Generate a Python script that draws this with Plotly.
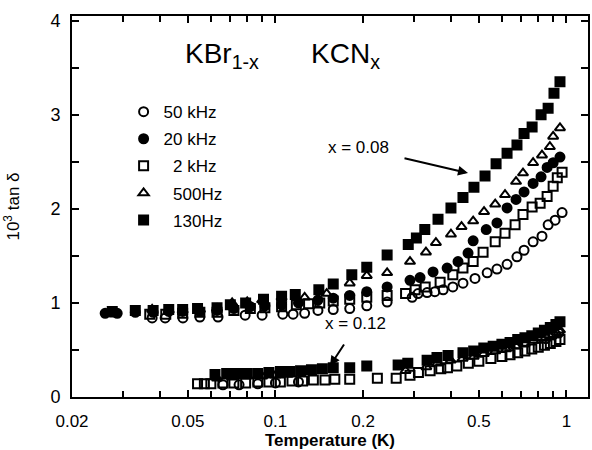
import plotly.graph_objects as go
import math

# ---------------- data: x = 0.08 (upper group) ----------------
t50k_a = [0.0377, 0.0418, 0.0481, 0.055, 0.0635, 0.0787, 0.090, 0.106, 0.115, 0.126, 0.140, 0.158, 0.180,
          0.206, 0.242, 0.295, 0.309, 0.332, 0.353, 0.377, 0.407, 0.441, 0.485, 0.534, 0.577, 0.625, 0.676,
          0.715, 0.768, 0.824, 0.865, 0.914, 0.966]
v50k_a = [0.84, 0.84, 0.84, 0.85, 0.85, 0.87, 0.87, 0.88, 0.88, 0.89, 0.92, 0.93, 0.94,
          0.97, 1.01, 1.06, 1.10, 1.11, 1.12, 1.14, 1.17, 1.21, 1.26, 1.32, 1.36, 1.41, 1.49,
          1.56, 1.65, 1.71, 1.83, 1.88, 1.96]

t20k_a = [0.026, 0.0286, 0.033, 0.038, 0.043, 0.048, 0.055, 0.063, 0.072, 0.082, 0.092, 0.105, 0.120,
          0.140, 0.158, 0.180, 0.206, 0.242, 0.290, 0.314, 0.348, 0.389, 0.424, 0.459, 0.478, 0.530,
          0.577, 0.625, 0.671, 0.715, 0.768, 0.818, 0.858, 0.900, 0.950]
v20k_a = [0.89, 0.89, 0.90, 0.90, 0.91, 0.91, 0.91, 0.92, 0.94, 0.96, 0.97, 0.98, 1.00,
          1.03, 1.05, 1.08, 1.12, 1.17, 1.24, 1.27, 1.33, 1.37, 1.44, 1.53, 1.66, 1.78,
          1.85, 2.01, 2.10, 2.18, 2.27, 2.34, 2.44, 2.49, 2.55]

t2k_a = [0.037, 0.042, 0.048, 0.055, 0.063, 0.072, 0.082, 0.092, 0.105, 0.118, 0.130, 0.142, 0.158,
         0.180, 0.206, 0.242, 0.280, 0.302, 0.327, 0.368, 0.407, 0.441, 0.478, 0.517, 0.569, 0.615,
         0.666, 0.709, 0.762, 0.812, 0.858, 0.900, 0.930, 0.966]
v2k_a = [0.88, 0.88, 0.89, 0.90, 0.90, 0.92, 0.94, 0.95, 0.96, 0.98, 0.99, 1.00, 1.02,
         1.04, 1.06, 1.08, 1.10, 1.14, 1.17, 1.22, 1.30, 1.37, 1.44, 1.54, 1.65, 1.74,
         1.83, 1.94, 2.02, 2.06, 2.13, 2.24, 2.33, 2.39]

t500_a = [0.028, 0.0377, 0.043, 0.048, 0.055, 0.063, 0.071, 0.080, 0.090, 0.105, 0.126, 0.150, 0.180,
          0.206, 0.242, 0.290, 0.329, 0.356, 0.401, 0.436, 0.478, 0.521, 0.569, 0.615, 0.671, 0.709,
          0.768, 0.824, 0.877, 0.900, 0.950]
v500_a = [0.88, 0.93, 0.92, 0.92, 0.93, 0.94, 1.00, 1.01, 1.03, 1.06, 1.06, 1.10, 1.21,
          1.29, 1.32, 1.44, 1.54, 1.64, 1.73, 1.81, 1.87, 1.97, 2.05, 2.15, 2.29, 2.38,
          2.49, 2.57, 2.66, 2.77, 2.86]

t130_a = [0.0275, 0.033, 0.038, 0.043, 0.048, 0.054, 0.063, 0.070, 0.079, 0.091, 0.105, 0.117, 0.141,
          0.158, 0.183, 0.206, 0.242, 0.286, 0.305, 0.326, 0.362, 0.401, 0.441, 0.481, 0.525, 0.573,
          0.625, 0.676, 0.715, 0.762, 0.818, 0.865, 0.906, 0.950]
v130_a = [0.91, 0.92, 0.92, 0.93, 0.93, 0.94, 0.95, 0.98, 1.00, 1.04, 1.07, 1.09, 1.14,
          1.20, 1.30, 1.38, 1.51, 1.62, 1.69, 1.78, 1.89, 2.01, 2.12, 2.23, 2.35, 2.48,
          2.59, 2.68, 2.80, 2.87, 3.00, 3.07, 3.23, 3.35]

# ---------------- data: x = 0.12 (lower group) ----------------
t50k_b = [0.066, 0.075, 0.087, 0.100, 0.120, 0.850, 0.900, 0.940]
v50k_b = [0.13, 0.13, 0.14, 0.15, 0.16, 0.62, 0.66, 0.68]

t2k_b = [0.054, 0.057, 0.060, 0.066, 0.072, 0.079, 0.087, 0.095, 0.104, 0.114, 0.124, 0.135, 0.148,
         0.160, 0.180, 0.224, 0.260, 0.290, 0.310, 0.340, 0.370, 0.390, 0.420, 0.460, 0.500, 0.550,
         0.600, 0.640, 0.680, 0.720, 0.760, 0.800, 0.840, 0.880, 0.920, 0.950]
v2k_b = [0.14, 0.14, 0.14, 0.15, 0.15, 0.15, 0.16, 0.16, 0.16, 0.17, 0.17, 0.18, 0.18,
         0.19, 0.19, 0.20, 0.20, 0.23, 0.26, 0.28, 0.30, 0.31, 0.33, 0.36, 0.38, 0.41,
         0.43, 0.45, 0.47, 0.49, 0.51, 0.53, 0.55, 0.57, 0.59, 0.61]

t500_b = [0.063, 0.071, 0.080, 0.090, 0.100, 0.110, 0.280, 0.330, 0.360, 0.400, 0.440, 0.480, 0.520,
          0.570, 0.620, 0.670, 0.720, 0.770, 0.820, 0.870, 0.920, 0.950]
v500_b = [0.20, 0.21, 0.22, 0.22, 0.23, 0.24, 0.28, 0.32, 0.36, 0.39, 0.41, 0.43, 0.46,
          0.49, 0.51, 0.54, 0.57, 0.60, 0.63, 0.66, 0.69, 0.71]

t130_b = [0.062, 0.068, 0.074, 0.080, 0.087, 0.095, 0.104, 0.112, 0.122, 0.133, 0.145, 0.158, 0.180,
          0.206, 0.264, 0.285, 0.332, 0.359, 0.392, 0.441, 0.480, 0.520, 0.560, 0.600, 0.640, 0.680,
          0.720, 0.760, 0.800, 0.840, 0.880, 0.920, 0.950]
v130_b = [0.24, 0.25, 0.25, 0.25, 0.25, 0.26, 0.27, 0.27, 0.28, 0.29, 0.30, 0.31, 0.31,
          0.33, 0.34, 0.36, 0.39, 0.42, 0.44, 0.47, 0.49, 0.52, 0.54, 0.56, 0.58, 0.61,
          0.63, 0.65, 0.68, 0.71, 0.74, 0.77, 0.80]

x_major = [0.02, 0.05, 0.1, 0.2, 0.5, 1]
x_major_text = ["0.02", "0.05", "0.1", "0.2", "0.5", "1"]
x_minor = [0.03, 0.04, 0.06, 0.07, 0.08, 0.09, 0.3, 0.4, 0.6, 0.7, 0.8, 0.9]

FONT = "Liberation Sans, Arial, sans-serif"

series = [
    ("50 kHz", "circle-open", t50k_a, v50k_a, t50k_b, v50k_b),
    ("20 kHz", "circle", t20k_a, v20k_a, None, None),
    ("\u00a0\u00a02 kHz", "square-open", t2k_a, v2k_a, t2k_b, v2k_b),
    ("\u00a0\u00a0500Hz", "triangle-up-open", t500_a, v500_a, t500_b, v500_b),
    ("\u00a0\u00a0130Hz", "square", t130_a, v130_a, t130_b, v130_b),
]

fig = go.Figure()
for i, (name, sym, xa, ya, xb, yb) in enumerate(series):
    mk = dict(symbol=sym, size=9, color="black", line=dict(color="black", width=2))
    fig.add_trace(go.Scatter(x=xa, y=ya, mode="markers", name=name, marker=mk,
                             legendgroup=str(i), showlegend=True))
    if xb is not None:
        fig.add_trace(go.Scatter(x=xb, y=yb, mode="markers", name=name, marker=mk,
                                 legendgroup=str(i), showlegend=False))

fig.update_layout(
    width=592, height=450,
    margin=dict(l=72, r=4, t=16, b=53),
    paper_bgcolor="white", plot_bgcolor="white",
    font=dict(family=FONT, size=16, color="black"),
    showlegend=True,
    legend=dict(x=0.10, y=0.795, xanchor="left", yanchor="top",
                bgcolor="rgba(0,0,0,0)", borderwidth=0,
                font=dict(family=FONT, size=17, color="black"),
                tracegroupgap=2, itemwidth=30),
    xaxis=dict(type="log", range=[math.log10(0.02), 0.074], automargin=False,
               showline=True, linecolor="black", linewidth=2, mirror="allticks",
               ticks="inside", ticklen=7, tickwidth=1.5, tickcolor="black",
               tickvals=x_major, ticktext=x_major_text,
               minor=dict(tickvals=x_minor, ticks="inside", ticklen=6, tickwidth=1.5, tickcolor="black"),
               showgrid=False, zeroline=False,
               tickfont=dict(size=17, color="black"), ticklabelstandoff=8,
               title=dict(text="<b>Temperature (K)</b>", font=dict(size=17, color="black"), standoff=6)),
    yaxis=dict(range=[0, 4.05], automargin=False,
               showline=True, linecolor="black", linewidth=2, mirror="allticks",
               ticks="inside", ticklen=7, tickwidth=1.5, tickcolor="black",
               tickvals=[0, 1, 2, 3, 4], ticktext=["0", "1", "2", "3", "4"],
               minor=dict(tickvals=[0.5, 1.5, 2.5, 3.5], ticks="inside", ticklen=7, tickwidth=1.5,
                          tickcolor="black"),
               showgrid=False, zeroline=False,
               tickfont=dict(size=18, color="black"), ticklabelstandoff=6,
               title=dict(text="10<sup>3</sup> tan δ", font=dict(size=17, color="black"), standoff=26)),
)

fig.add_annotation(xref="paper", yref="paper", x=(183 - 72) / 516, y=(397 - 55) / 381,
                   text="KBr<sub>1-x</sub>", showarrow=False, xanchor="left", yanchor="middle",
                   font=dict(size=28, color="black"))
fig.add_annotation(xref="paper", yref="paper", x=(309 - 72) / 516, y=(397 - 55) / 381,
                   text="KCN<sub>x</sub>", showarrow=False, xanchor="left", yanchor="middle",
                   font=dict(size=28, color="black"))

# x = 0.08 label with arrow
fig.add_annotation(xref="paper", yref="paper", x=(468 - 72) / 516, y=(397 - 173) / 381,
                   ax=-65, ay=-15,
                   text="", showarrow=True, arrowhead=2, arrowsize=1, arrowwidth=2, arrowcolor="black")
fig.add_annotation(xref="paper", yref="paper", x=(358 - 72) / 516, y=(397 - 147) / 381,
                   text="x = 0.08", showarrow=False, font=dict(size=17, color="black"))
# x = 0.12 label with arrow
fig.add_annotation(xref="paper", yref="paper", x=(355 - 72) / 516, y=(397 - 335) / 381,
                   text="x = 0.12", showarrow=False, font=dict(size=17, color="black"))
fig.add_annotation(xref="paper", yref="paper", x=(330 - 72) / 516, y=(397 - 366) / 381,
                   ax=15, ay=-23, text="", showarrow=True, arrowhead=2, arrowsize=1,
                   arrowwidth=2, arrowcolor="black")

fig.write_html("out.html")
